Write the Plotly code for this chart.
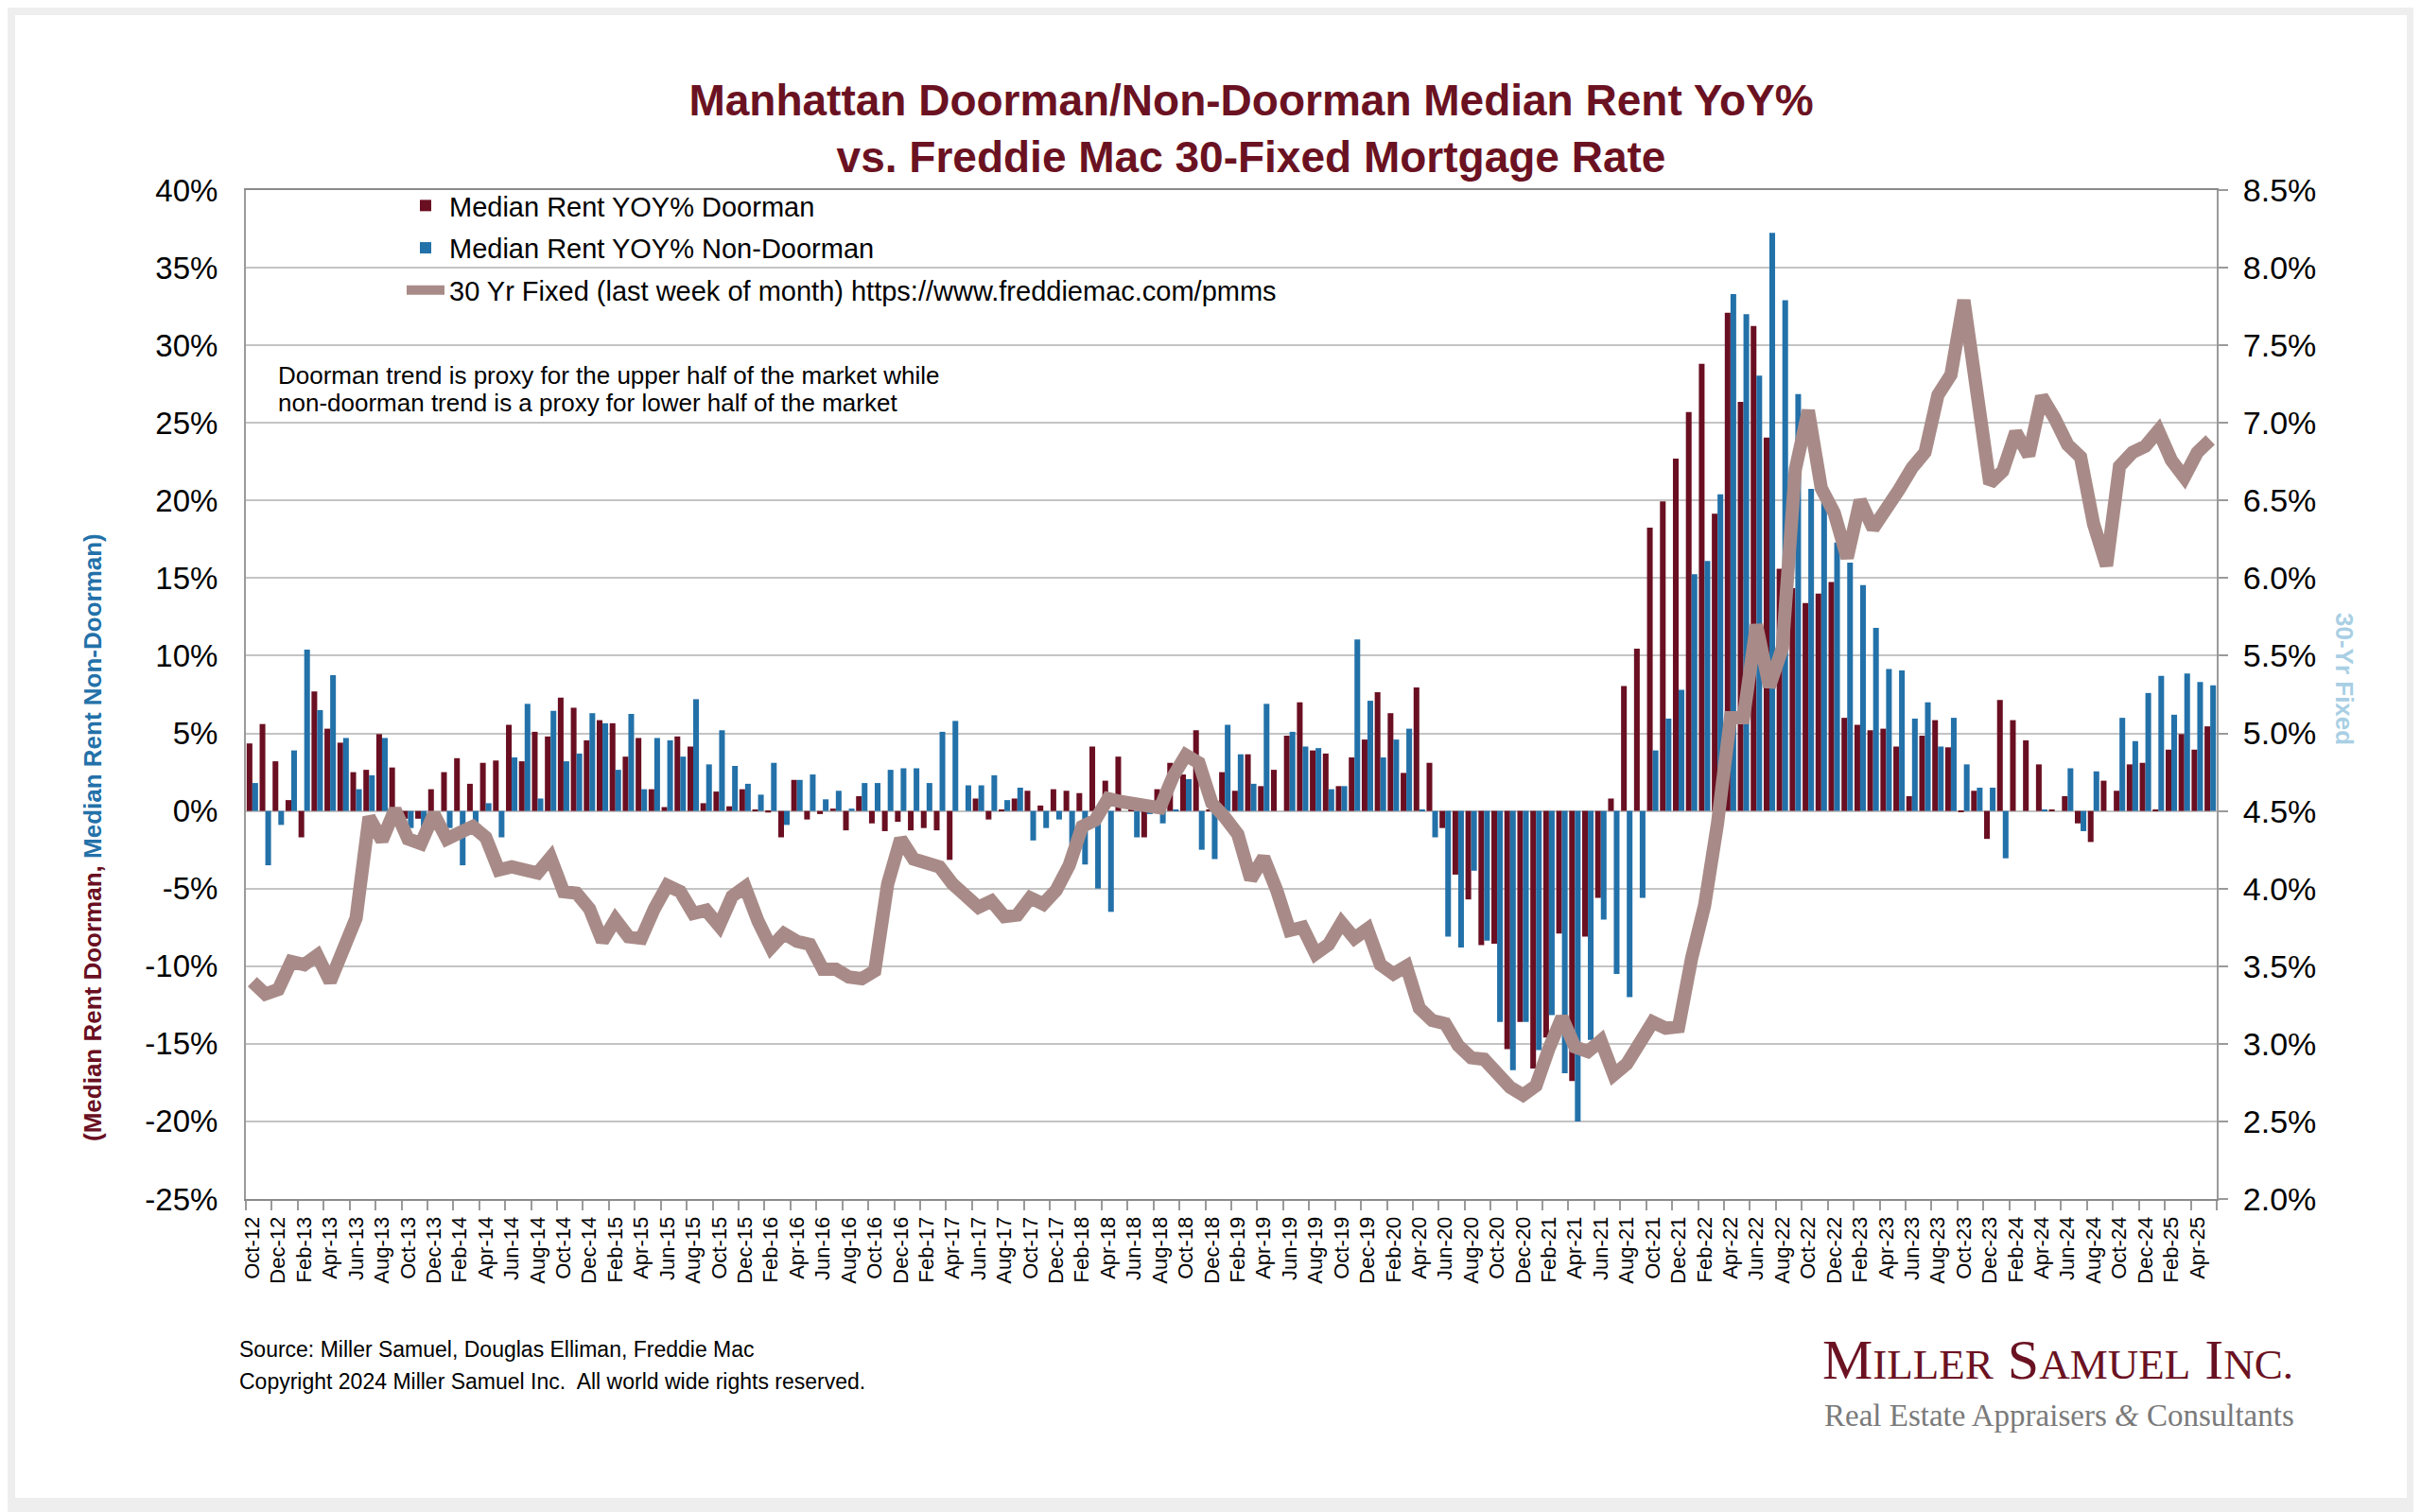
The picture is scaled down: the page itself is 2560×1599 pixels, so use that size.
import pandas as pd
import plotly.graph_objects as go

# ---------------- data ----------------
months = pd.date_range("2012-10-01", periods=152, freq="MS").strftime("%b-%y").tolist()

doorman = [
    4.35, 5.6, 3.2, 0.7, -1.7, 7.7, 5.3, 4.4, 2.5, 2.65, 4.95, 2.8,
    -0.5, -0.5, 1.4, 2.5, 3.4, 1.75, 3.1, 3.25, 5.55, 3.2, 5.1, 4.8,
    7.3, 6.65, 4.55, 5.85, 5.65, 3.5, 4.7, 1.4, 0.25, 4.8, 4.15, 0.5,
    1.25, 0.3, 1.4, 0.1, -0.1, -1.7, 2.0, -0.55, -0.2, 0.15, -1.25, 0.95,
    -0.8, -1.3, -0.7, -1.25, -1.1, -1.25, -3.15, 0.0, 0.8, -0.55, 0.1, 0.8,
    1.3, 0.35, 1.4, 1.3, 1.15, 4.15, 1.95, 3.5, 0.05, -1.7, 1.4, 3.1,
    2.35, 5.2, 0.1, 2.5, 1.3, 3.65, 1.6, 2.65, 4.85, 7.0, 3.9, 3.7,
    1.6, 3.45, 4.6, 7.65, 6.3, 2.45, 7.95, 3.1, -1.1, -4.1, -5.7, -8.65,
    -8.55, -15.35, -13.6, -16.6, -14.6, -7.9, -17.4, -8.1, -5.6, 0.8, 8.05, 10.45,
    18.25, 19.95, 22.7, 25.7, 28.8, 19.15, 32.1, 26.35, 31.25, 24.05, 15.6, 14.35,
    13.4, 14.0, 14.75, 6.0, 5.55, 5.2, 5.3, 4.15, 0.95, 4.85, 5.85, 4.1,
    -0.05, 1.3, -1.8, 7.15, 5.85, 4.55, 3.0, 0.1, 0.95, -0.8, -2.0, 1.95,
    1.3, 3.0, 3.1, 0.1, 3.95, 4.95, 3.95, 5.45,
]

non_doorman = [
    1.8, -3.5, -0.9, 3.9, 10.4, 6.5, 8.75, 4.7, 1.4, 2.3, 4.7, 0.0,
    -1.1, -1.8, 0.0, -1.1, -3.5, -1.3, 0.5, -1.7, 3.45, 6.9, 0.8, 6.45,
    3.2, 3.7, 6.3, 5.65, 2.65, 6.25, 1.4, 4.7, 4.55, 3.5, 7.2, 3.0,
    5.2, 2.9, 1.75, 1.05, 3.1, -0.9, 2.0, 2.35, 0.75, 1.3, 0.15, 1.8,
    1.8, 2.65, 2.75, 2.75, 1.8, 5.1, 5.8, 1.65, 1.65, 2.3, 0.7, 1.5,
    -1.9, -1.1, -0.55, -2.15, -3.45, -5.0, -6.5, 0.0, -1.7, -0.2, -0.8, 0.1,
    2.05, -2.5, -3.1, 5.55, 3.65, 1.75, 6.9, 0.0, 5.1, 4.15, 4.05, 1.4,
    1.6, 11.05, 7.1, 3.45, 4.6, 5.3, 0.1, -1.7, -8.1, -8.8, -3.85, -8.35,
    -13.6, -16.7, -13.6, -15.4, -13.15, -16.9, -20.0, -14.75, -7.0, -10.5, -12.0, -5.6,
    3.9, 5.95, 7.8, 15.25, 16.1, 20.4, 33.3, 32.0, 28.05, 37.25, 32.9, 26.85,
    20.75, 19.9, 17.3, 16.0, 14.55, 11.8, 9.15, 9.05, 5.95, 7.0, 4.15, 6.0,
    3.0, 1.5, 1.5, -3.05, 0.0, 0.0, 0.1, 0.0, 2.75, -1.3, 2.55, 0.0,
    6.0, 4.5, 7.6, 8.7, 6.2, 8.85, 8.3, 8.1,
]

rate_30yr = [
    3.40, 3.32, 3.35, 3.53, 3.51, 3.57, 3.40, 3.59, 3.81, 4.46, 4.31, 4.51,
    4.32, 4.29, 4.48, 4.32, 4.37, 4.40, 4.33, 4.12, 4.14, 4.12, 4.10, 4.20,
    3.98, 3.97, 3.87, 3.66, 3.80, 3.69, 3.68, 3.87, 4.02, 3.98, 3.84, 3.86,
    3.76, 3.95, 4.01, 3.79, 3.62, 3.71, 3.66, 3.64, 3.48, 3.48, 3.43, 3.42,
    3.47, 4.03, 4.32, 4.19, 4.16, 4.14, 4.03, 3.95, 3.88, 3.92, 3.82, 3.83,
    3.94, 3.90, 3.99, 4.15, 4.40, 4.44, 4.58, 4.56, 4.55, 4.54, 4.52, 4.72,
    4.86, 4.81, 4.55, 4.46, 4.35, 4.06, 4.20, 3.99, 3.73, 3.75, 3.58, 3.64,
    3.78, 3.68, 3.74, 3.51, 3.45, 3.50, 3.23, 3.15, 3.13, 2.99, 2.91, 2.90,
    2.81, 2.72, 2.67, 2.73, 2.97, 3.17, 2.98, 2.95, 3.02, 2.80, 2.87, 3.01,
    3.14, 3.10, 3.11, 3.55, 3.89, 4.42, 5.10, 5.10, 5.70, 5.30, 5.55, 6.70,
    7.08, 6.58, 6.42, 6.13, 6.50, 6.32, 6.43, 6.57, 6.71, 6.81, 7.18, 7.31,
    7.79, 7.22, 6.61, 6.69, 6.94, 6.79, 7.17, 7.03, 6.86, 6.78, 6.35, 6.08,
    6.72, 6.81, 6.85, 6.95, 6.76, 6.65, 6.81, 6.89,
]

left_ticks = list(range(-25, 45, 5))
left_tick_text = [f"{v}%" for v in left_ticks]

idx = list(range(len(months)))
tick_idx = idx[::2]
tick_labels = months[::2]
boundaries = [i - 0.5 for i in tick_idx] + [idx[-1] + 0.5]

# ---------------- styling ----------------
RED = "#6a0f22"
BLUE = "#2371a9"
LINE = "#a88b88"
TITLE_RED = "#6b1222"
FONT = "Liberation Sans, Arial, sans-serif"
SERIF = "Liberation Serif, Times New Roman, serif"

# page geometry (the page body adds an 8px offset)
OFF = 8
PAGE_W, PAGE_H = 2560, 1599
PL, PR, PT, PB = 260, 2344, 201, 1268
W, H = PAGE_W - OFF, PAGE_H - OFF
PW, PH = PR - PL, PB - PT


def px(xpage):
    return (xpage - PL) / PW


def py(ypage):
    return (PB - ypage) / PH


fig = go.Figure()
fig.add_trace(go.Bar(x=idx, y=doorman, name="Median Rent YOY% Doorman",
                     marker=dict(color=RED, line=dict(width=0)), legendgroup="a"))
fig.add_trace(go.Bar(x=idx, y=non_doorman, name="Median Rent YOY% Non-Doorman",
                     marker=dict(color=BLUE, line=dict(width=0)), legendgroup="b"))
fig.add_trace(go.Scatter(x=idx, y=rate_30yr, yaxis="y2", mode="lines",
                         name="30 Yr Fixed (last week of month) https://www.freddiemac.com/pmms",
                         line=dict(color=LINE, width=14), legendgroup="c"))

fig.update_layout(
    width=W, height=H,
    margin=dict(l=PL - OFF, r=PAGE_W - PR, t=PT - OFF, b=PAGE_H - PB),
    paper_bgcolor="#eeeeee",
    plot_bgcolor="white",
    barmode="group", bargap=0.12, bargroupgap=0.0,
    font=dict(family=FONT, color="black"),
    title=dict(
        text="<b>Manhattan Doorman/Non-Doorman Median Rent YoY%<br>vs. Freddie Mac 30-Fixed Mortgage Rate</b>",
        x=px(1323), xref="paper", xanchor="center",
        y=1 - (122 - OFF) / H, yref="container", yanchor="middle",
        font=dict(size=46, color=TITLE_RED, family=FONT),
    ),
    showlegend=True,
    legend=dict(x=px(425), y=py(192), xanchor="left", yanchor="top",
                bgcolor="rgba(0,0,0,0)", font=dict(size=29, color="black"),
                tracegroupgap=4, itemwidth=40, traceorder="grouped"),
    xaxis=dict(
        range=[-0.5, idx[-1] + 0.5], tickmode="array", tickvals=tick_idx, ticktext=tick_labels,
        tickangle=-90, ticks="", showgrid=False, zeroline=False,
        showline=True, linecolor="#8a8a8a", linewidth=2, mirror=True,
        tickfont=dict(size=22, color="black"), ticklabelstandoff=8,
        minor=dict(tickmode="array", tickvals=boundaries, ticks="outside", ticklen=10,
                   tickwidth=2, tickcolor="#9a9a9a", showgrid=False),
    ),
    yaxis=dict(
        range=[-25, 40], tickmode="array", tickvals=left_ticks, ticktext=left_tick_text,
        showgrid=True, gridcolor="#c4c4c4", gridwidth=1.6, zeroline=False,
        showline=True, linecolor="#9a9a9a", linewidth=2,
        tickfont=dict(size=33, color="black"), ticks="", ticklabelstandoff=21,
    ),
    yaxis2=dict(
        range=[2.0, 8.5], tick0=2.0, dtick=0.5, tickformat=".1f", ticksuffix="%",
        overlaying="y", side="right", showgrid=False, zeroline=False,
        showline=True, linecolor="#9a9a9a", linewidth=2,
        ticks="outside", ticklen=10, tickwidth=2, tickcolor="#9a9a9a",
        tickfont=dict(size=34, color="black"), ticklabelstandoff=9,
    ),
)

# white card behind the chart
fig.add_shape(type="rect", xref="paper", yref="paper",
              x0=px(16), x1=px(2545), y0=py(1584), y1=py(16),
              fillcolor="white", line=dict(width=0), layer="below")

annotations = [
    dict(text="Doorman trend is proxy for the upper half of the market while",
         x=px(292), y=py(397), xanchor="left", yanchor="middle", align="left",
         font=dict(size=26, color="black")),
    dict(text="non-doorman trend is a proxy for lower half of the market",
         x=px(292), y=py(426), xanchor="left", yanchor="middle", align="left",
         font=dict(size=26, color="black")),
    dict(text=f"<b><span style='color:{RED}'>(Median Rent Doorman, </span>"
              f"<span style='color:{BLUE}'>Median Rent Non-Doorman)</span></b>",
         x=px(98), y=py(886), xanchor="center", yanchor="middle", textangle=-90,
         font=dict(size=26)),
    dict(text="<b>30-Yr Fixed</b>", x=px(2479), y=py(718), xanchor="center", yanchor="middle",
         textangle=90, font=dict(size=26, color="#a9cfe4")),
    dict(text="Source: Miller Samuel, Douglas Elliman, Freddie Mac",
         x=px(251), y=py(1427), xanchor="left", yanchor="middle", font=dict(size=23, color="black")),
    dict(text="Copyright 2024 Miller Samuel Inc.  All world wide rights reserved.",
         x=px(251), y=py(1461), xanchor="left", yanchor="middle", font=dict(size=23, color="black")),
    dict(text="M<span style='font-size:45px'>ILLER</span> S<span style='font-size:45px'>AMUEL</span> "
              "I<span style='font-size:45px'>NC.</span>",
         x=px(1925), y=py(1438), xanchor="left", yanchor="middle",
         font=dict(size=60, color=TITLE_RED, family=SERIF)),
    dict(text="Real Estate Appraisers <i>&amp;</i> Consultants",
         x=px(1927), y=py(1497), xanchor="left", yanchor="middle",
         font=dict(size=33, color="#7a7a7a", family=SERIF)),
]
for a in annotations:
    a.update(xref="paper", yref="paper", showarrow=False)
    fig.add_annotation(**a)

fig.write_html("out.html")
